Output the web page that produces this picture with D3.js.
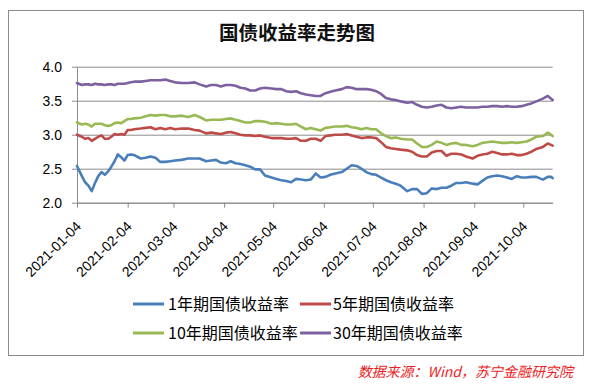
<!DOCTYPE html>
<html>
<head>
<meta charset="utf-8">
<script src="https://cdn.jsdelivr.net/npm/d3@7"></script>
<style>
  body { margin: 0; background: #fff; }
</style>
</head>
<body>
<div id="chart"></div>
<script>

// ---- DATA -------------------------------------------------------

var dates = [
  "2021-01-04", "2021-01-07", "2021-01-09", "2021-01-11", "2021-01-13", "2021-01-15", "2021-01-17", "2021-01-19",
  "2021-01-21", "2021-01-23", "2021-01-25", "2021-01-27", "2021-01-29", "2021-01-31", "2021-02-02", "2021-02-04",
  "2021-02-06", "2021-02-08", "2021-02-12", "2021-02-15", "2021-02-18", "2021-02-21", "2021-02-24", "2021-02-27",
  "2021-03-02", "2021-03-05", "2021-03-09", "2021-03-13", "2021-03-17", "2021-03-20",
  "2021-03-24", "2021-03-27", "2021-03-30", "2021-04-02", "2021-04-05", "2021-04-08", "2021-04-11", "2021-04-14",
  "2021-04-17", "2021-04-20", "2021-04-23", "2021-04-26", "2021-04-29", "2021-05-03", "2021-05-06", "2021-05-09",
  "2021-05-12", "2021-05-15", "2021-05-18", "2021-05-21", "2021-05-24", "2021-05-27", "2021-05-30", "2021-06-02",
  "2021-06-05", "2021-06-08", "2021-06-11", "2021-06-15", "2021-06-18", "2021-06-21", "2021-06-24", "2021-06-27",
  "2021-06-30", "2021-07-03", "2021-07-06", "2021-07-09", "2021-07-12", "2021-07-15", "2021-07-18", "2021-07-21",
  "2021-07-25", "2021-07-28", "2021-07-31", "2021-08-03", "2021-08-06", "2021-08-09", "2021-08-12", "2021-08-15",
  "2021-08-18", "2021-08-21", "2021-08-24", "2021-08-27", "2021-08-30", "2021-09-03", "2021-09-06", "2021-09-09",
  "2021-09-12", "2021-09-15", "2021-09-18", "2021-09-21", "2021-09-24", "2021-09-27", "2021-09-30", "2021-10-03",
  "2021-10-06", "2021-10-09", "2021-10-12", "2021-10-16", "2021-10-19", "2021-10-21", "2021-10-22"
];

var oneYear = [
  2.54, 2.39, 2.30, 2.25, 2.17, 2.29, 2.39, 2.45, 2.41, 2.46, 2.53, 2.61, 2.71, 2.67, 2.62, 2.70,
  2.71, 2.70, 2.65, 2.66, 2.68, 2.66, 2.60, 2.60, 2.61, 2.62, 2.63, 2.65, 2.65, 2.65,
  2.61, 2.62, 2.63, 2.59, 2.58, 2.61, 2.58, 2.57, 2.55, 2.53, 2.49, 2.49, 2.40, 2.37, 2.35, 2.33,
  2.32, 2.30, 2.35, 2.34, 2.33, 2.34, 2.43, 2.37,
  2.38, 2.41, 2.43, 2.45, 2.50, 2.55, 2.54, 2.50, 2.45, 2.42, 2.41, 2.37, 2.33, 2.30, 2.28, 2.25,
  2.17, 2.20, 2.20, 2.13, 2.14, 2.21, 2.20, 2.22,
  2.22, 2.25, 2.29, 2.29, 2.30, 2.28, 2.27, 2.32, 2.37, 2.39, 2.40, 2.39, 2.37, 2.35, 2.39, 2.37,
  2.37, 2.38, 2.38, 2.34, 2.38, 2.38, 2.36
];

var fiveYear = [
  3.00, 2.97, 2.94, 2.95, 2.91, 2.94, 2.97, 2.99, 2.94, 2.94, 2.97, 3.01, 3.00, 3.01, 3.00, 3.07,
  3.07, 3.08, 3.09, 3.10, 3.11, 3.08, 3.10, 3.08, 3.10, 3.08, 3.09, 3.09, 3.07, 3.06,
  3.02, 3.03, 3.02, 3.01, 3.03, 3.04, 3.02, 3.00, 2.99, 2.99, 2.98, 2.99, 2.97, 2.95, 2.95, 2.95,
  2.94, 2.94, 2.95, 2.91, 2.91, 2.94, 2.94, 2.91,
  2.98, 2.99, 3.00, 3.00, 3.01, 2.99, 2.97, 2.95, 2.96, 2.96, 2.95, 2.89, 2.82, 2.80, 2.79, 2.78,
  2.77, 2.75, 2.70, 2.68, 2.68, 2.74, 2.76, 2.76,
  2.69, 2.72, 2.72, 2.71, 2.68, 2.65, 2.69, 2.71, 2.72, 2.75, 2.73, 2.71, 2.71, 2.72, 2.70, 2.70,
  2.72, 2.75, 2.79, 2.82, 2.87, 2.85, 2.84
];

var tenYear = [
  3.18, 3.15, 3.16, 3.15, 3.12, 3.16, 3.16, 3.16, 3.14, 3.13, 3.14, 3.17, 3.18, 3.17, 3.20, 3.23,
  3.23, 3.24, 3.25, 3.27, 3.29, 3.28, 3.29, 3.29, 3.27, 3.27, 3.28, 3.26, 3.29, 3.26,
  3.21, 3.22, 3.22, 3.22, 3.23, 3.24, 3.22, 3.20, 3.18, 3.18, 3.20, 3.20, 3.19, 3.16, 3.17, 3.16,
  3.15, 3.15, 3.16, 3.12, 3.08, 3.10, 3.08, 3.06,
  3.10, 3.11, 3.12, 3.12, 3.13, 3.11, 3.10, 3.08, 3.10, 3.08, 3.08, 3.02, 2.98, 2.95, 2.96, 2.94,
  2.93, 2.93, 2.87, 2.82, 2.82, 2.85, 2.90, 2.88,
  2.85, 2.87, 2.88, 2.85, 2.85, 2.83, 2.85, 2.88, 2.89, 2.90, 2.89, 2.88, 2.88, 2.89, 2.88, 2.89,
  2.90, 2.93, 2.97, 2.98, 3.03, 3.00, 2.98
];

var thirtyYear = [
  3.76, 3.73, 3.74, 3.74, 3.73, 3.75, 3.74, 3.74, 3.73, 3.74, 3.74, 3.73, 3.75, 3.75, 3.75, 3.76,
  3.77, 3.78, 3.78, 3.79, 3.80, 3.80, 3.80, 3.81, 3.79, 3.77, 3.76, 3.76, 3.77, 3.74,
  3.71, 3.73, 3.73, 3.71, 3.73, 3.73, 3.72, 3.69, 3.68, 3.65, 3.65, 3.68, 3.69, 3.68, 3.67, 3.67,
  3.64, 3.63, 3.64, 3.61, 3.59, 3.58, 3.57, 3.57,
  3.61, 3.63, 3.65, 3.67, 3.70, 3.69, 3.67, 3.67, 3.67, 3.66, 3.64, 3.60, 3.54, 3.52, 3.51, 3.49,
  3.47, 3.48, 3.44, 3.41, 3.40, 3.41, 3.43, 3.44,
  3.40, 3.39, 3.40, 3.41, 3.40, 3.40, 3.40, 3.41, 3.41, 3.42, 3.42, 3.41, 3.42, 3.41, 3.41, 3.42,
  3.44, 3.46, 3.49, 3.53, 3.57, 3.53, 3.51
];

var seriesNames = ["1年期国债收益率", "5年期国债收益率", "10年期国债收益率", "30年期国债收益率"];
var seriesColors = ["#4a7ebb", "#be4b48", "#98b954", "#7d60a0"];

var xTickLabels = ["2021-01-04", "2021-02-04", "2021-03-04", "2021-04-04", "2021-05-04",
  "2021-06-04", "2021-07-04", "2021-08-04", "2021-09-04", "2021-10-04"];
var yTicks = [2.0, 2.5, 3.0, 3.5, 4.0];

var title = "国债收益率走势图";
var source = "数据来源：Wind，苏宁金融研究院";

// ---- VARIABLES --------------------------------------------------

var w = 590;
var h = 385;
var plot = { left: 77, right: 552.7, top: 66.7, bottom: 202.7 };

var parseDate = d3.timeParse("%Y-%m-%d");
var formatDate = d3.timeFormat("%Y-%m-%d");

var parsedDates = dates.map(parseDate);
var allSeries = [oneYear, fiveYear, tenYear, thirtyYear].map(function(values, i) {
  return {
    name: seriesNames[i],
    color: seriesColors[i],
    points: values.map(function(v, j) {
      return { date: parsedDates[j], value: v };
    })
  };
});

// ---- SCALES AND AXES --------------------------------------------

var xScale = d3.scaleTime()
  .domain(d3.extent(parsedDates))
  .range([plot.left, plot.right]);

var yScale = d3.scaleLinear()
  .domain([2, 4])
  .range([plot.bottom, plot.top]);

var xAxis = d3.axisBottom(xScale)
  .tickValues(xTickLabels.map(parseDate))
  .tickFormat(formatDate)
  .tickSize(5)
  .tickSizeOuter(0);

var yAxis = d3.axisLeft(yScale)
  .tickValues(yTicks)
  .tickFormat(d3.format(".1f"))
  .tickSize(5)
  .tickSizeOuter(0)
  .tickPadding(10);

var yGrid = d3.axisLeft(yScale)
  .tickValues(yTicks)
  .tickSize(-(plot.right - plot.left))
  .tickFormat("");

// ---- START BUILDING! --------------------------------------------

var svg = d3.select("#chart")
  .append("svg")
  .attr("width", w)
  .attr("height", h);

// outer frame
svg.append("rect")
  .attr("x", 8.5)
  .attr("y", 10.5)
  .attr("width", 575)
  .attr("height", 345)
  .attr("fill", "#fff")
  .attr("stroke", "#8a8a8a")
  .attr("stroke-width", 1);

// title
svg.append("text")
  .attr("x", 297)
  .attr("y", 40)
  .attr("text-anchor", "middle")
  .attr("font-family", "Noto Sans CJK SC")
  .attr("font-weight", "bold")
  .attr("font-size", "19.5px")
  .attr("fill", "#111")
  .text(title);

// gridlines
svg.append("g")
  .attr("class", "grid")
  .attr("transform", "translate(" + plot.left + ",0)")
  .call(yGrid)
  .call(function(g) { g.select(".domain").remove(); })
  .selectAll("line")
  .attr("stroke", "#8c8c8c");

// y axis
var gy = svg.append("g")
  .attr("transform", "translate(" + plot.left + ",0)")
  .call(yAxis);
gy.selectAll("line, path").attr("stroke", "#8c8c8c");
gy.selectAll("text")
  .attr("font-family", "Liberation Sans, Arial, sans-serif")
  .attr("font-size", "14px")
  .attr("fill", "#000");

// x axis
var gx = svg.append("g")
  .attr("transform", "translate(0," + plot.bottom + ")")
  .call(xAxis);
gx.selectAll("line, path").attr("stroke", "#8c8c8c");
gx.selectAll("text")
  .attr("font-family", "Liberation Sans, Arial, sans-serif")
  .attr("font-size", "14px")
  .attr("fill", "#000")
  .attr("text-anchor", "end")
  .attr("x", 0)
  .attr("y", 0)
  .attr("dy", "0.35em")
  .attr("transform", "translate(1,21) rotate(-45)");

// lines
var line = d3.line()
  .x(function(d) { return xScale(d.date); })
  .y(function(d) { return yScale(d.value); });

svg.selectAll(".series")
  .data(allSeries)
  .enter()
  .append("path")
  .attr("class", "series")
  .attr("d", function(d) { return line(d.points); })
  .attr("fill", "none")
  .attr("stroke", function(d) { return d.color; })
  .attr("stroke-width", 2.6)
  .attr("stroke-linejoin", "round")
  .attr("stroke-linecap", "round");

// legend
var legendX = [133, 300];
var legendY = [304, 333];

var legend = svg.selectAll(".legend")
  .data(allSeries)
  .enter()
  .append("g")
  .attr("class", "legend")
  .attr("transform", function(d, i) {
    return "translate(" + legendX[i % 2] + "," + legendY[Math.floor(i / 2)] + ")";
  });

legend.append("line")
  .attr("x1", 0)
  .attr("x2", 31)
  .attr("y1", 0)
  .attr("y2", 0)
  .attr("stroke", function(d) { return d.color; })
  .attr("stroke-width", 3);

legend.append("text")
  .attr("x", function(d, i) { return i % 2 === 0 ? 35 : 33; })
  .attr("y", 0)
  .attr("dy", "0.36em")
  .attr("font-family", "Noto Sans CJK SC")
  .attr("font-size", "16px")
  .attr("fill", "#000")
  .text(function(d) { return d.name; });

// source note
svg.append("text")
  .attr("x", 573)
  .attr("y", 377)
  .attr("text-anchor", "end")
  .attr("font-family", "Noto Sans CJK SC")
  .attr("font-style", "italic")
  .attr("font-size", "14px")
  .attr("fill", "#ee1c25")
  .text(source);

</script>
</body>
</html>
